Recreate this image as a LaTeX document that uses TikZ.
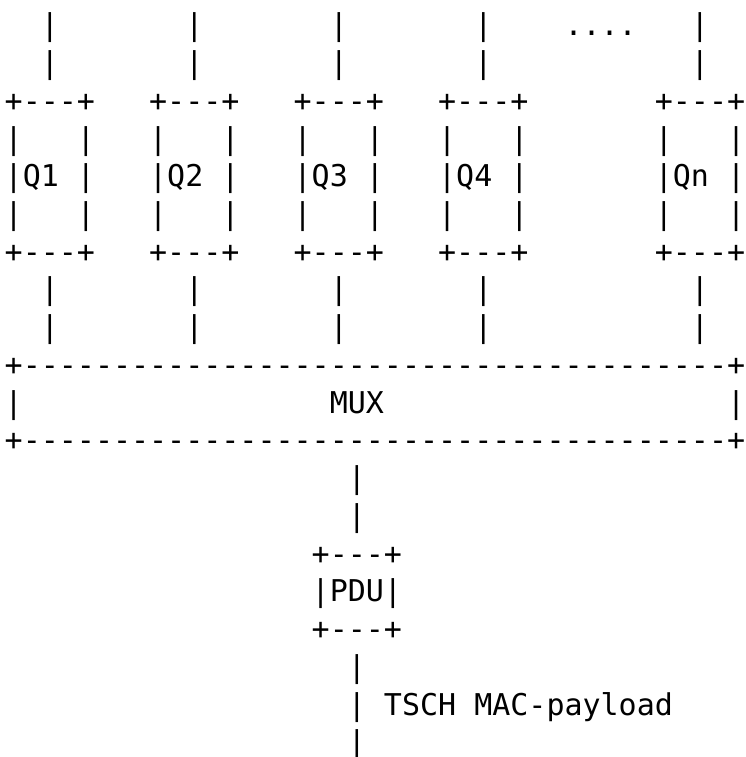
\documentclass[tikz,border=0pt]{standalone}
\usepackage{fontspec}
\newfontfamily\asciifont{DejaVu Sans Mono}[Ligatures=TeXOff]
\begin{document}
\begin{tikzpicture}[x=1pt, y=1pt,
    declare function={cx(\k)=4.5+\k*18.06; ry(\r)=721.2-(\r-1)*37.74;},
    every node/.style={inner sep=0pt, anchor=base west,
        font=\asciifont\fontsize{30}{37.74}\selectfont}]
\useasboundingbox (0,0) rectangle (745,757);
% queues, with the lines into and out of them
\foreach \q/\k in {1/0, 2/8, 3/16, 4/24, n/36} {
    \node (in\q a) at ({cx(\k+2)},{ry(1)}) {|};
    \node (in\q b) at ({cx(\k+2)},{ry(2)}) {|};
    \node (q\q top) at ({cx(\k)},{ry(3)}) {+---+};
    \node (q\q a) at ({cx(\k)},{ry(4)}) {|~~~|};
    \node (q\q) at ({cx(\k)},{ry(5)}) {|Q\q~|};
    \node (q\q b) at ({cx(\k)},{ry(6)}) {|~~~|};
    \node (q\q bot) at ({cx(\k)},{ry(7)}) {+---+};
    \node (out\q a) at ({cx(\k+2)},{ry(8)}) {|};
    \node (out\q b) at ({cx(\k+2)},{ry(9)}) {|};
}
\node (dots) at ({cx(31)},{ry(1)}) {....};
% multiplexer
\node (muxtop) at ({cx(0)},{ry(10)}) {+---------------------------------------+};
\node (muxl) at ({cx(0)},{ry(11)}) {|};
\node (mux) at ({cx(18)},{ry(11)}) {MUX};
\node (muxr) at ({cx(40)},{ry(11)}) {|};
\node (muxbot) at ({cx(0)},{ry(12)}) {+---------------------------------------+};
% PDU and the payload
\node (ma) at ({cx(19)},{ry(13)}) {|};
\node (mb) at ({cx(19)},{ry(14)}) {|};
\node (pdutop) at ({cx(17)},{ry(15)}) {+---+};
\node (pdu) at ({cx(17)},{ry(16)}) {|PDU|};
\node (pdubot) at ({cx(17)},{ry(17)}) {+---+};
\node (pa) at ({cx(19)},{ry(18)}) {|};
\node (payload) at ({cx(19)},{ry(19)}) {|~TSCH~MAC-payload};
\node (pb) at ({cx(19)},{ry(20)}) {|};
\end{tikzpicture}
\end{document}
